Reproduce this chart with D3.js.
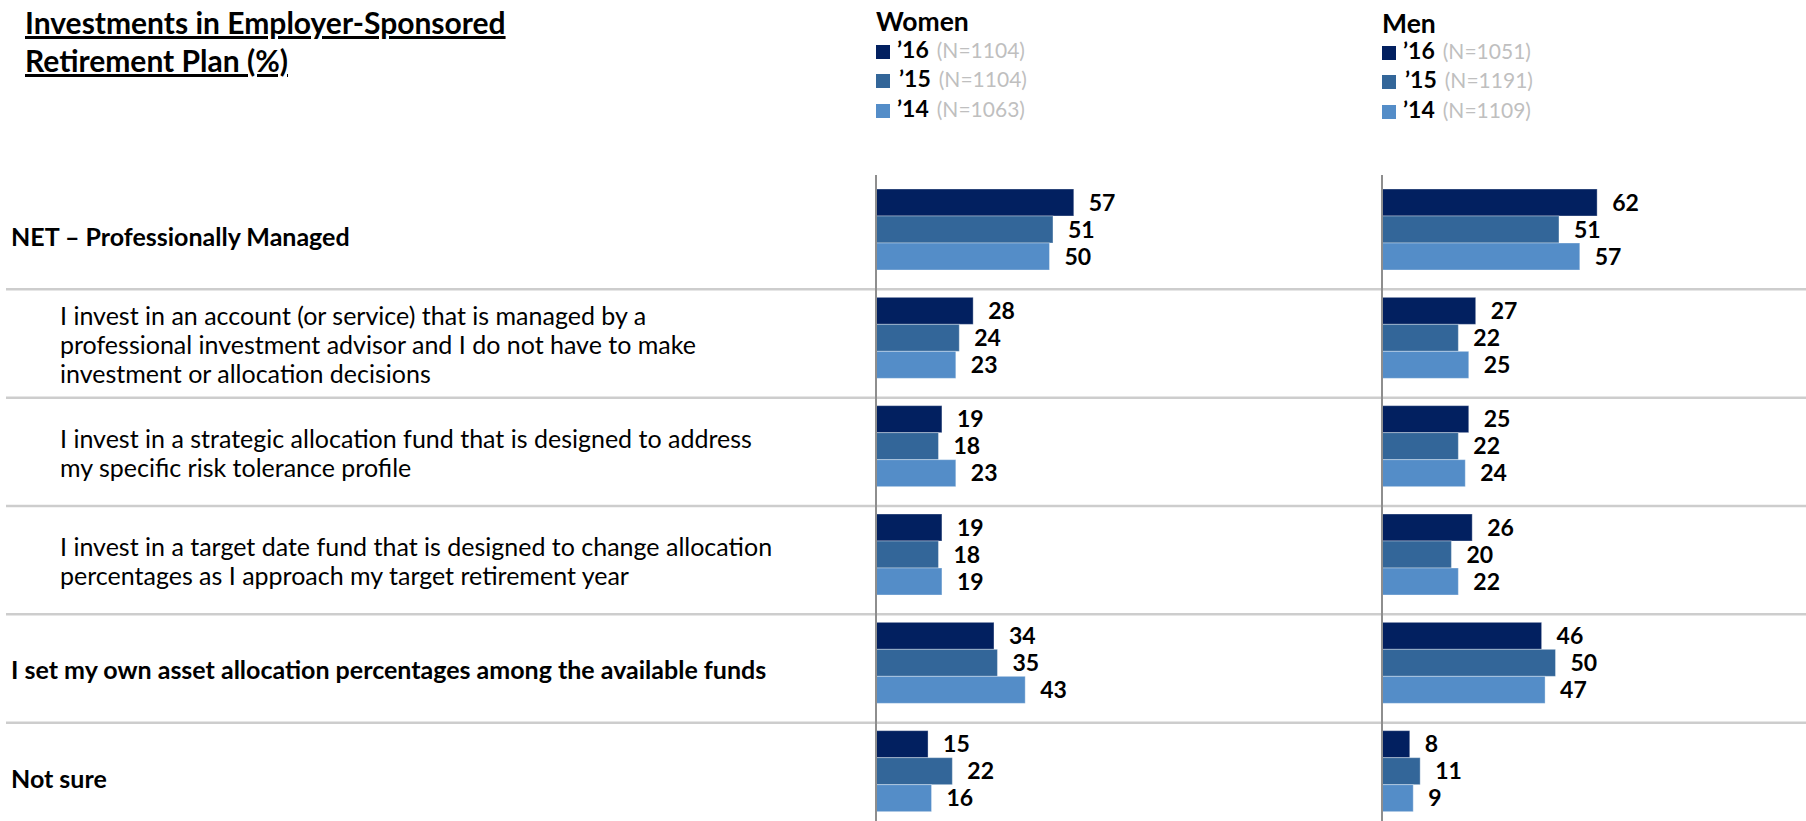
<!DOCTYPE html>
<html>
<head>
<meta charset="utf-8">
<script src="https://cdn.jsdelivr.net/npm/d3@7"></script>
<style>
  html, body { margin: 0; padding: 0; background: #ffffff; }
  svg { display: block; font-family: Lato, "Open Sans", sans-serif; }
</style>
</head>
<body>
<svg id="chart" width="1806" height="821"></svg>
<script>
// Survey rows (line breaks as in the printed labels)
const categories = [
  ["NET \u2013 Professionally Managed"],
  ["I invest in an account (or service) that is managed by a",
   "professional investment advisor and I do not have to make",
   "investment or allocation decisions"],
  ["I invest in a strategic allocation fund that is designed to address",
   "my specific risk tolerance profile"],
  ["I invest in a target date fund that is designed to change allocation",
   "percentages as I approach my target retirement year"],
  ["I set my own asset allocation percentages among the available funds"],
  ["Not sure"]
];
const boldRows = [true, false, false, false, true, true];

const years = ["\u201916", "\u201915", "\u201914"];
const womenN = ["(N=1104)", "(N=1104)", "(N=1063)"];
const menN   = ["(N=1051)", "(N=1191)", "(N=1109)"];

const women16 = [57, 28, 19, 19, 34, 15];
const women15 = [51, 24, 18, 18, 35, 22];
const women14 = [50, 23, 23, 19, 43, 16];
const men16   = [62, 27, 25, 26, 46, 8];
const men15   = [51, 22, 22, 20, 50, 11];
const men14   = [57, 25, 24, 22, 47, 9];

const yearColors = ["#022060", "#336699", "#548dc8"];

const panels = [
  { title: "Women", series: [women16, women15, women14], n: womenN, x0: 876, titleY: 31, legendY: [52, 81, 111] },
  { title: "Men",   series: [men16, men15, men14],       n: menN,   x0: 1382, titleY: 33, legendY: [53, 82, 112] }
];

const svg = d3.select("#chart");
const rowIdx = d3.range(categories.length);

// Row bands and the three year bars inside each band
const y = d3.scaleBand().domain(rowIdx).range([181, 831]).paddingInner(0).paddingOuter(0);
const yYear = d3.scaleBand().domain(d3.range(years.length)).range([8, 89]);

// Title
const title = svg.append("text")
  .attr("font-size", 30).attr("font-weight", 700)
  .attr("text-decoration", "underline")
  .attr("fill", "#000");
title.append("tspan").attr("x", 25).attr("y", 34).text("Investments in Employer-Sponsored");
title.append("tspan").attr("x", 25).attr("y", 72).text("Retirement Plan (%)");

// Row separators
svg.append("g").selectAll("line")
  .data(rowIdx.slice(1))
  .join("line")
  .attr("x1", 6).attr("x2", 1806)
  .attr("y1", d => y(d)).attr("y2", d => y(d))
  .attr("stroke", "#cdcdcd").attr("stroke-width", 2.5);

// Row labels
const labels = svg.append("g");
rowIdx.forEach(i => {
  const lines = categories[i];
  const bold = boldRows[i];
  const lh = 29;
  const cy = y(i) + y.bandwidth() / 2 + 2;
  const x = bold ? 11 : 60;
  const t = labels.append("text")
    .attr("font-size", 25)
    .attr("font-weight", bold ? 700 : 400)
    .attr("fill", "#000");
  lines.forEach((ln, k) => {
    t.append("tspan")
      .attr("x", x)
      .attr("y", cy + (k - (lines.length - 1) / 2) * lh)
      .attr("dy", "0.35em")
      .text(ln);
  });
});

panels.forEach(p => {
  const x = d3.scaleLinear().domain([0, 100]).range([p.x0, p.x0 + 347]);
  const g = svg.append("g");

  // Panel heading
  g.append("text")
    .attr("x", p.x0).attr("y", p.titleY)
    .attr("font-size", 26.5).attr("font-weight", 700)
    .text(p.title);

  // Legend
  const lg = g.append("g");
  years.forEach((yr, k) => {
    const cy = p.legendY[k];
    lg.append("rect")
      .attr("x", p.x0).attr("y", cy - 7)
      .attr("width", 14).attr("height", 14)
      .attr("fill", yearColors[k]);
    const t = lg.append("text")
      .attr("x", p.x0 + 21 + (k === 1 ? 2 : 0)).attr("y", cy)
      .attr("dy", "0.36em");
    t.append("tspan").attr("font-weight", 700).attr("font-size", 23).attr("fill", "#000").text(yr);
    t.append("tspan").attr("font-weight", 400).attr("font-size", 21).attr("fill", "#bfbfbf").attr("dx", 8).text(p.n[k]);
  });

  // Bars
  const data = [];
  rowIdx.forEach(i => p.series.forEach((s, k) => data.push({ row: i, year: k, value: s[i] })));

  g.append("g").selectAll("rect")
    .data(data)
    .join("rect")
    .attr("x", x(0))
    .attr("y", d => y(d.row) + yYear(d.year))
    .attr("width", d => x(d.value) - x(0))
    .attr("height", yYear.bandwidth())
    .attr("fill", d => yearColors[d.year])
    .attr("stroke", "rgba(255,255,255,0.35)")
    .attr("stroke-width", 1);

  // Value labels
  g.append("g").selectAll("text")
    .data(data)
    .join("text")
    .attr("x", d => x(d.value) + 15)
    .attr("y", d => y(d.row) + yYear(d.year) + yYear.bandwidth() / 2)
    .attr("dy", "0.36em")
    .attr("font-size", 23)
    .attr("font-weight", 700)
    .attr("fill", "#000")
    .text(d => d.value);

  // Baseline axis
  g.append("line")
    .attr("x1", p.x0).attr("x2", p.x0)
    .attr("y1", 175).attr("y2", 821)
    .attr("stroke", "#8e8e8e").attr("stroke-width", 2);
});
</script>
</body>
</html>
